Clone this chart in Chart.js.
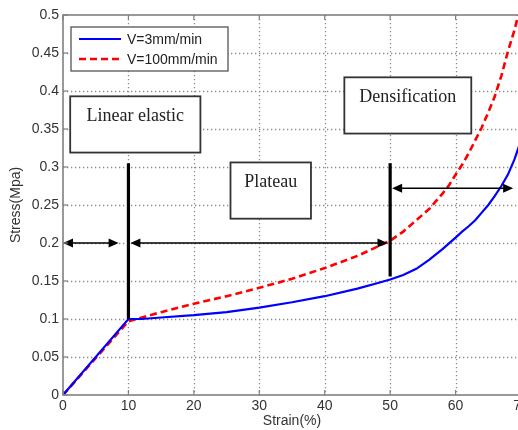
<!DOCTYPE html>
<html>
<head>
<meta charset="utf-8">
<script src="https://cdn.jsdelivr.net/npm/chart.js@4.4.0/dist/chart.umd.min.js"></script>
<style>
html,body{margin:0;padding:0;background:#fff;overflow:hidden;}
#wrap{width:540px;height:430px;position:relative;}
</style>
</head>
<body>
<div id="wrap"><canvas id="c"></canvas></div>
<script>
// ---- data ----
const xTicks = [0, 10, 20, 30, 40, 50, 60, 70];
const yTicks = [0, 0.05, 0.1, 0.15, 0.2, 0.25, 0.3, 0.35, 0.4, 0.45, 0.5];
const seriesNames = ['V=3mm/min', 'V=100mm/min'];
const strainBlue = [0, 10, 12, 15, 20, 25, 30, 35, 40, 45, 48, 50, 52, 54, 56, 58, 60, 61, 62, 63, 64, 65, 66, 67, 68, 69, 70];
const stressBlue = [0, 0.1, 0.1, 0.102, 0.105, 0.109, 0.115, 0.122, 0.13, 0.14, 0.147, 0.152, 0.158, 0.166, 0.178, 0.192, 0.207, 0.215, 0.222, 0.23, 0.24, 0.25, 0.262, 0.275, 0.29, 0.31, 0.335];
const strainRed = [0, 10, 15, 20, 25, 30, 35, 40, 45, 50, 52, 54, 56, 57, 58, 59, 60, 61, 62, 63, 64, 65, 66, 67, 68, 69, 70];
const stressRed = [0, 0.097, 0.109, 0.12, 0.13, 0.141, 0.153, 0.167, 0.183, 0.203, 0.215, 0.23, 0.245, 0.255, 0.265, 0.276, 0.29, 0.303, 0.318, 0.335, 0.352, 0.372, 0.393, 0.42, 0.452, 0.48, 0.515];
const xTitle = 'Strain(%)';
const yTitle = 'Stress(Mpa)';
// region annotations (data units)
const regionLabels = ['Linear elastic', 'Plateau', 'Densification'];
const regionX0 = [1.1, 25.6, 43.0];
const regionX1 = [21.0, 37.9, 62.4];
const regionYTop = [0.393, 0.306, 0.418];
const regionYBot = [0.319, 0.232, 0.344];
const boundaryStrain = [10, 50];
const boundaryLow = [0.1, 0.156];
const boundaryHigh = [0.305, 0.305];
const arrowFrom = [0, 10.3, 50.3];
const arrowTo = [8.5, 49.6, 68.8];
const arrowAt = [0.2, 0.2, 0.272];

function pts(xs, ys){ return xs.map((x,i)=>({x:x, y:ys[i]})); }

const FONT = "'Liberation Sans', Arial, sans-serif";
const SERIF = "'Liberation Serif', 'Times New Roman', serif";

function arrowHead(ctx, x, y, dir){
  const L = 10, W = 4.5;
  ctx.beginPath();
  ctx.moveTo(x, y);
  ctx.lineTo(x - dir*L, y - W);
  ctx.lineTo(x - dir*L, y + W);
  ctx.closePath();
  ctx.fill();
}

const deco = {
  id: 'deco',
  beforeDatasetsDraw(chart){
    const {ctx, chartArea:a, scales:{x, y}} = chart;
    ctx.save();
    ctx.strokeStyle = '#8a8a8a';
    ctx.lineWidth = 1.3;
    ctx.setLineDash([1.3, 2.7]);
    xTicks.forEach(v=>{
      const px = Math.round(x.getPixelForValue(v))+0.5;
      if (v===0) return;
      ctx.beginPath(); ctx.moveTo(px, a.top); ctx.lineTo(px, a.bottom); ctx.stroke();
    });
    yTicks.forEach(v=>{
      const py = Math.round(y.getPixelForValue(v))+0.5;
      if (v===0 || v===0.5) return;
      ctx.beginPath(); ctx.moveTo(a.left, py); ctx.lineTo(a.right, py); ctx.stroke();
    });
    ctx.restore();
  },
  afterDatasetsDraw(chart){
    const {ctx, chartArea:a, scales:{x, y}} = chart;
    ctx.save();
    // boundary lines
    ctx.strokeStyle = '#000';
    ctx.lineWidth = 3.2;
    boundaryStrain.forEach((s,i)=>{
      const px = x.getPixelForValue(s);
      ctx.beginPath();
      ctx.moveTo(px, y.getPixelForValue(boundaryLow[i]));
      ctx.lineTo(px, y.getPixelForValue(boundaryHigh[i]));
      ctx.stroke();
    });
    // arrows
    ctx.lineWidth = 1.5;
    ctx.fillStyle = '#000';
    arrowFrom.forEach((f,i)=>{
      const x0 = x.getPixelForValue(f), x1 = x.getPixelForValue(arrowTo[i]);
      const py = y.getPixelForValue(arrowAt[i]);
      ctx.beginPath(); ctx.moveTo(x0+4, py); ctx.lineTo(x1-4, py); ctx.stroke();
      arrowHead(ctx, x0, py, -1);
      arrowHead(ctx, x1, py, 1);
    });
    // region boxes
    regionLabels.forEach((t,i)=>{
      const l = x.getPixelForValue(regionX0[i]), r = x.getPixelForValue(regionX1[i]);
      const tp = y.getPixelForValue(regionYTop[i]), bt = y.getPixelForValue(regionYBot[i]);
      ctx.fillStyle = '#fff';
      ctx.fillRect(l, tp, r-l, bt-tp);
      ctx.strokeStyle = '#333';
      ctx.lineWidth = 1.8;
      ctx.strokeRect(l, tp, r-l, bt-tp);
      ctx.fillStyle = '#222';
      ctx.font = '18px ' + SERIF;
      ctx.textAlign = 'center';
      ctx.textBaseline = 'middle';
      ctx.fillText(t, (l+r)/2, tp + 20);
    });
    // legend
    const lx = a.left + 8, ly = a.top + 12, lw = 157, lh = 44;
    ctx.fillStyle = '#fff';
    ctx.fillRect(lx, ly, lw, lh);
    ctx.strokeStyle = '#555';
    ctx.lineWidth = 1.3;
    ctx.strokeRect(lx, ly, lw, lh);
    chart.data.datasets.forEach((ds,i)=>{
      const yy = ly + 12 + i*20;
      ctx.strokeStyle = ds.borderColor;
      ctx.lineWidth = ds.borderWidth;
      ctx.setLineDash(ds.borderDash || []);
      ctx.beginPath(); ctx.moveTo(lx+8, yy); ctx.lineTo(lx+50, yy); ctx.stroke();
      ctx.setLineDash([]);
      ctx.fillStyle = '#222';
      ctx.font = '14px ' + FONT;
      ctx.textAlign = 'left';
      ctx.textBaseline = 'middle';
      ctx.fillText(ds.label, lx+56, yy+1);
    });
    // axes border and ticks
    ctx.strokeStyle = '#808080';
    ctx.lineWidth = 1.6;
    ctx.strokeRect(a.left, a.top, a.right-a.left, a.bottom-a.top);
    ctx.lineWidth = 1.2;
    xTicks.forEach(v=>{
      const px = x.getPixelForValue(v);
      ctx.beginPath(); ctx.moveTo(px, a.bottom); ctx.lineTo(px, a.bottom-5); ctx.stroke();
      ctx.beginPath(); ctx.moveTo(px, a.top); ctx.lineTo(px, a.top+5); ctx.stroke();
    });
    yTicks.forEach(v=>{
      const py = y.getPixelForValue(v);
      ctx.beginPath(); ctx.moveTo(a.left, py); ctx.lineTo(a.left+5, py); ctx.stroke();
    });
    // axis titles
    ctx.fillStyle = '#333';
    ctx.font = '14px ' + FONT;
    ctx.textAlign = 'center';
    ctx.textBaseline = 'middle';
    ctx.fillText(xTitle, (a.left+a.right)/2, a.bottom + 26);
    ctx.translate(a.left - 47, (a.top+a.bottom)/2);
    ctx.rotate(-Math.PI/2);
    ctx.fillText(yTitle, 0, 0);
    ctx.restore();
  }
};

new Chart(document.getElementById('c'), {
  type: 'line',
  data: {
    datasets: [
      {label: seriesNames[0], data: pts(strainBlue, stressBlue), borderColor: '#0000ff', borderWidth: 2.2,
       pointRadius: 0, fill: false, tension: 0},
      {label: seriesNames[1], data: pts(strainRed, stressRed), borderColor: '#ff0000', borderWidth: 2.6,
       borderDash: [7, 4], pointRadius: 0, fill: false, tension: 0}
    ]
  },
  options: {
    responsive: true,
    maintainAspectRatio: false,
    animation: false,
    devicePixelRatio: 1,
    layout: {padding: {top: 15, right: 19, left: 0, bottom: 0}},
    plugins: {legend: {display: false}, tooltip: {enabled: false}},
    scales: {
      x: {
        type: 'linear', min: 0, max: 70,
        afterBuildTicks: s => { s.ticks = xTicks.map(v=>({value:v})); },
        afterFit: s => { s.height = 35; },
        grid: {display: false, drawTicks: false},
        border: {display: false},
        ticks: {color: '#333', font: {family: FONT, size: 14}, padding: 3, maxRotation: 0, autoSkip: false}
      },
      y: {
        type: 'linear', min: 0, max: 0.5,
        afterBuildTicks: s => { s.ticks = yTicks.map(v=>({value:v})); },
        afterFit: s => { s.width = 63; },
        grid: {display: false, drawTicks: false},
        border: {display: false},
        ticks: {color: '#333', font: {family: FONT, size: 14}, padding: 4, autoSkip: false,
                callback: v => String(+Number(v).toFixed(2))}
      }
    }
  },
  plugins: [deco]
});
</script>
</body>
</html>
